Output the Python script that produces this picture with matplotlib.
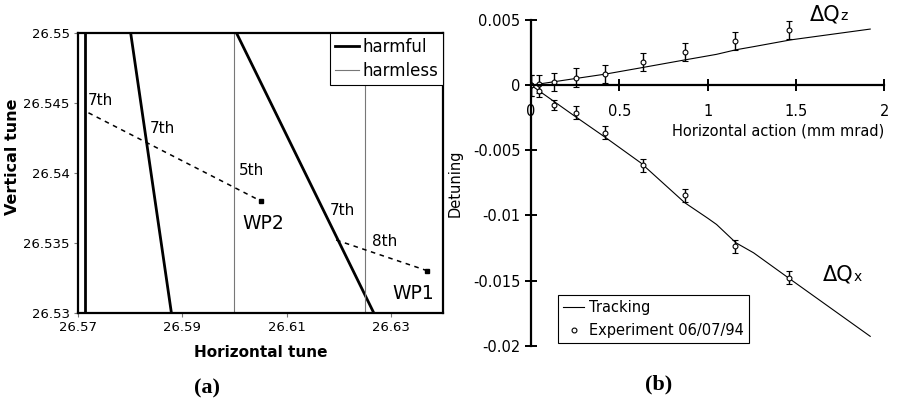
import matplotlib
matplotlib.use("Agg")
import matplotlib.pyplot as plt
from matplotlib.lines import Line2D

plt.rcParams['font.family'] = ['DejaVu Sans']
plt.rcParams['axes.unicode_minus'] = False

# ---- panel (a): resonance lines in tune space ----
harmful_lines = [((26.5713, 26.55), (26.5713, 26.53)),
                 ((26.5801, 26.55), (26.5879, 26.53)),
                 ((26.6004, 26.55), (26.6267, 26.53))]
harmless_x = [26.6000, 26.6251]
dashed_lines = [((26.5720, 26.5443), (26.6050, 26.5380)),
                ((26.6195, 26.5352), (26.6370, 26.5330))]
wp_names = ["WP1", "WP2"]
wp_x = [26.6370, 26.6050]
wp_y = [26.5330, 26.5380]
wp_label_pos = [(26.6303, 26.5314), (26.6016, 26.5364)]
order_labels = ["7th", "7th", "5th", "7th", "8th"]
order_pos = [(26.5719, 26.5452), (26.5838, 26.5432), (26.6008, 26.5402),
             (26.6182, 26.5373), (26.6263, 26.5351)]

# ---- panel (b): detuning vs horizontal action ----
track_x = [0, 0.25, 0.42, 0.62, 0.87, 1.0, 1.05, 1.16, 1.26, 1.47, 1.92]
track_dqz = [0, 0.00051, 0.00085, 0.00133, 0.00194, 0.00225, 0.00237,
             0.00272, 0.00296, 0.00348, 0.00431]
track_dqx = [0, -0.0024, -0.0040, -0.00595, -0.00902, -0.01021, -0.01069,
             -0.0121, -0.01287, -0.01492, -0.01928]
exp_x = [0, 0.047, 0.132, 0.255, 0.419, 0.636, 0.872, 1.157, 1.463]
exp_dqz = [0, 0.00008, 0.00025, 0.00059, 0.00085, 0.00179, 0.00256, 0.00341, 0.00423]
exp_dqz_err = [0.0008, 0.0007, 0.0007, 0.0007, 0.0007, 0.0007, 0.0007, 0.0007, 0.0007]
exp_dqx = [0, -0.00044, -0.00154, -0.0021, -0.00364, -0.00613, -0.00846, -0.01236, -0.01479]
exp_dqx_err = [0.0008, 0.0005, 0.0004, 0.0005, 0.0005, 0.0005, 0.0005, 0.0005, 0.0005]

fig = plt.figure(figsize=(8.99, 4.04), dpi=100)

# ================= (a) =================
ax1 = fig.add_axes([0.0868, 0.226, 0.406, 0.692])
for (x0, y0), (x1, y1) in harmful_lines:
    ax1.plot([x0, x1], [y0, y1], color="black", lw=2.0, solid_capstyle="butt")
for hx in harmless_x:
    ax1.axvline(hx, color="#777777", lw=0.8)
for (x0, y0), (x1, y1) in dashed_lines:
    ax1.plot([x0, x1], [y0, y1], color="black", lw=1.1, linestyle=(0, (3, 3)))
ax1.plot(wp_x, wp_y, "s", color="black", markersize=3.5)
for name, (tx, ty) in zip(wp_names, wp_label_pos):
    ax1.text(tx, ty, name, fontsize=13.5, ha="left", va="center")
for lab, (tx, ty) in zip(order_labels, order_pos):
    ax1.text(tx, ty, lab, fontsize=11, ha="left", va="center")

ax1.set_xlim(26.57, 26.64)
ax1.set_ylim(26.53, 26.55)
ax1.set_xticks([26.57, 26.59, 26.61, 26.63])
ax1.set_xticklabels(["26.57", "26.59", "26.61", "26.63"])
ax1.set_yticks([26.53, 26.535, 26.54, 26.545, 26.55])
ax1.set_yticklabels(["26.53", "26.535", "26.54", "26.545", "26.55"])
ax1.tick_params(direction="out", length=3, width=0.8, color="#777777",
                labelsize=9.5, pad=3)
for sp in ax1.spines.values():
    sp.set_linewidth(1.6)
ax1.set_xlabel("Horizontal tune", fontsize=11, fontweight="bold")
ax1.xaxis.set_label_coords(0.5, -0.115)
ax1.set_ylabel("Vertical tune", fontsize=11.5, fontweight="bold")
ax1.yaxis.set_label_coords(-0.159, 0.557)

handles1 = [Line2D([], [], color="black", lw=2.0),
            Line2D([], [], color="#777777", lw=0.8)]
leg1 = ax1.legend(handles1, ["harmful", "harmless"], loc="upper right",
                  borderaxespad=0, fontsize=12, fancybox=False, framealpha=1,
                  edgecolor="black", handlelength=1.4, handletextpad=0.2,
                  borderpad=0.3, labelspacing=0.35)
leg1.get_frame().set_linewidth(0.8)

fig.text(0.230, 1 - 388 / 404, "(a)", fontsize=16, fontweight="bold",
         family="Liberation Serif", ha="center", va="center")

# ================= (b) =================
ax2 = fig.add_axes([0.5907, 0.1443, 0.393, 0.806])
ax2.plot(track_x, track_dqz, color="black", lw=0.8, label="Tracking")
ax2.plot(track_x, track_dqx, color="black", lw=0.8)
ax2.errorbar(exp_x, exp_dqz, yerr=exp_dqz_err, fmt="o", color="black",
             mfc="white", mec="black", markersize=3.5, mew=0.8,
             elinewidth=1.0, capsize=2.5, capthick=1.0,
             label="Experiment 06/07/94")
ax2.errorbar(exp_x, exp_dqx, yerr=exp_dqx_err, fmt="o", color="black",
             mfc="white", mec="black", markersize=3.5, mew=0.8,
             elinewidth=1.0, capsize=2.5, capthick=1.0)

ax2.set_xlim(0, 2)
ax2.set_ylim(-0.02, 0.005)
ax2.spines["top"].set_visible(False)
ax2.spines["right"].set_visible(False)
ax2.spines["bottom"].set_position(("data", 0))
ax2.spines["left"].set_linewidth(1.6)
ax2.spines["bottom"].set_linewidth(1.6)
ax2.set_xticks([0, 0.5, 1, 1.5, 2])
ax2.set_xticklabels(["0", "0.5", "1", "1.5", "2"])
ax2.set_yticks([0.005, 0, -0.005, -0.01, -0.015, -0.02])
ax2.set_yticklabels(["0.005", "0", "-0.005", "-0.01", "-0.015", "-0.02"])
ax2.tick_params(direction="inout", length=9, width=1.4, labelsize=10.5)
ax2.tick_params(axis="x", pad=9)
ax2.tick_params(axis="y", pad=3)
ax2.text(2.0, -0.00350, "Horizontal action (mm mrad)", fontsize=10.5,
         ha="right", va="center")
ax2.set_ylabel("Detuning", fontsize=10.5)
ax2.yaxis.set_label_coords(-0.195, 0.5)

ax2.text(1.75, 0.00500, "\u0394Q", fontsize=15, ha="right", va="baseline")
ax2.text(1.75, 0.00500, "z", fontsize=10, ha="left", va="baseline")
ax2.text(1.825, -0.0150, "\u0394Q", fontsize=15, ha="right", va="baseline")
ax2.text(1.825, -0.0150, "x", fontsize=10, ha="left", va="baseline")

handles2 = [Line2D([], [], color="black", lw=0.8),
            Line2D([], [], marker="o", linestyle="none", mfc="white",
                   mec="black", markersize=3.5, mew=0.8)]
leg2 = ax2.legend(handles2, ["Tracking", "Experiment 06/07/94"],
                  loc="lower left", bbox_to_anchor=(0.077, 0.009),
                  borderaxespad=0, fontsize=10.5, fancybox=False, framealpha=1,
                  edgecolor="black", handlelength=1.45, handletextpad=0.3,
                  borderpad=0.35, labelspacing=0.5)
leg2.get_frame().set_linewidth(0.8)

fig.text(659 / 899, 1 - 384 / 404, "(b)", fontsize=16, fontweight="bold",
         family="Liberation Serif", ha="center", va="center")

fig.savefig("out.png", dpi=100)
